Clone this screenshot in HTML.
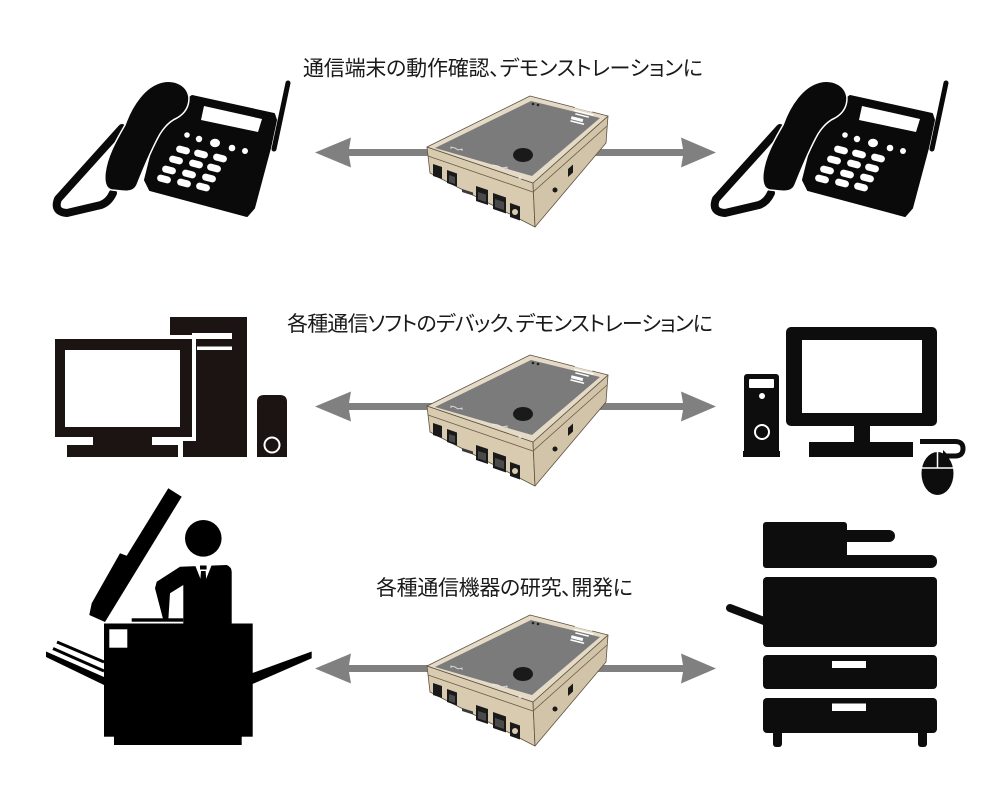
<!DOCTYPE html>
<html><head><meta charset="utf-8"><style>
html,body{margin:0;padding:0;background:#fff;}
svg{display:block;}
.t{font-family:"Liberation Sans","Noto Sans CJK JP",sans-serif;font-size:21px;fill:#1a1a1a;font-feature-settings:"palt";}
</style></head><body>
<svg width="1000" height="800" viewBox="0 0 1000 800" xmlns="http://www.w3.org/2000/svg">
<rect width="1000" height="800" fill="#fff"/>
<defs>
<g id="dev">
  <!-- side faces -->
  <polygon points="427,147 533,183 535,227 430,173" fill="#d8cbb0" stroke="#5e5242" stroke-width="0.8" stroke-linejoin="round"/>
  <polygon points="533,183 608,116 606,143 535,227" fill="#d2c4a8" stroke="#5e5242" stroke-width="0.8" stroke-linejoin="round"/>
  <polyline points="428,156 533,192 607,126" fill="none" stroke="#6b5d4a" stroke-width="0.8"/>
  <!-- top rim -->
  <polygon points="427,147 530,96 608,116 533,183" fill="#e4dac6" stroke="#5e5242" stroke-width="0.8" stroke-linejoin="round"/>
  <!-- top gray -->
  <polygon points="435,148 531,101 600,118 532,176" fill="#7b7b7b" stroke-linejoin="round"/>
  <!-- button -->
  <ellipse cx="523" cy="155" rx="10" ry="7" fill="#1a1a1a"/>
  <!-- leds -->
  <circle cx="533" cy="104" r="1.3" fill="#222"/>
  <circle cx="538" cy="105" r="1.3" fill="#222"/>
  <!-- logo marks -->
  <g fill="#fff" transform="rotate(14 583 116)">
    <rect x="573" y="106" width="18" height="4"/>
    <rect x="573" y="112" width="20" height="1.5"/>
    <rect x="575" y="115" width="14" height="1.5"/>
    <rect x="572" y="119" width="12" height="3"/>
    <rect x="572" y="123" width="14" height="1.5"/>
  </g>
  <g fill="none" stroke="#eee" stroke-width="0.8">
    <polyline points="451,149 451,147 455,148 458,150 462,149 462,151"/>
    <polyline points="493,167 493,165 498,166 502,168 507,167 507,169"/>
    <circle cx="520" cy="178" r="1"/>
  </g>
  <!-- ports front-left face -->
  <polygon points="433,164 442,167 442,179 433,176" fill="#1a1a1a"/>
  <polygon points="447,170 457,173.5 457,186.5 447,183" fill="#1a1a1a"/>
  <polygon points="449,175 455,177 455,184 449,182" fill="#4a4a4a"/>
  <polygon points="462,189 473,192.5 473,195.5 462,192" fill="#3a3a3a"/>
  <polygon points="476,186 488,190 488,205 476,201" fill="#1a1a1a"/>
  <polygon points="478,192 486,194.5 486,202 478,199.5" fill="#4a4a4a"/>
  <polygon points="493,193 506,197.5 506,213.5 493,209" fill="#1a1a1a"/>
  <polygon points="495,199 504,202 504,210 495,207" fill="#4a4a4a"/>
  <polygon points="510,203 520,206.5 520,220.5 510,217" fill="#1a1a1a"/>
  <circle cx="515" cy="212" r="3" fill="#d8cbb0"/>
  <!-- right face ports -->
  <polygon points="568,169 573,164.5 573,172.5 568,177" fill="#1a1a1a"/>
  <circle cx="555" cy="190" r="2.5" fill="#1a1a1a"/>
</g>
<g id="phone">
  <polygon points="192,96 274,114 276,120 270,148 254,208 247,216 150,190 145,180 160,120" fill="#0a0a0a" stroke="#0a0a0a" stroke-width="2" stroke-linejoin="round"/>
  <line x1="288" y1="83" x2="274" y2="149" stroke="#0a0a0a" stroke-width="5" stroke-linecap="round"/>
  <polygon points="204,106 262,119 258,132 201,120" fill="#fff"/>
  <g fill="#fff">
    <circle cx="187" cy="135" r="2.8"/>
    <circle cx="199" cy="139" r="3.2"/>
    <ellipse cx="215" cy="143" rx="5" ry="4.2"/>
    <circle cx="232" cy="148" r="3.3"/>
    <circle cx="245" cy="151" r="3"/>
    <g transform="rotate(14 183 150)"><rect x="176" y="146.5" width="14" height="7" rx="3.5"/></g>
    <g transform="rotate(14 201 154)"><rect x="194" y="150.5" width="14" height="7" rx="3.5"/></g>
    <g transform="rotate(14 220 158)"><rect x="213" y="154.5" width="14" height="7" rx="3.5"/></g>
    <g transform="rotate(14 176 160)"><rect x="169" y="156.5" width="14" height="7" rx="3.5"/></g>
    <g transform="rotate(14 196 164)"><rect x="189" y="160.5" width="14" height="7" rx="3.5"/></g>
    <g transform="rotate(14 214 168)"><rect x="207" y="164.5" width="14" height="7" rx="3.5"/></g>
    <g transform="rotate(14 169 170)"><rect x="162" y="166.5" width="14" height="7" rx="3.5"/></g>
    <g transform="rotate(14 189 174)"><rect x="182" y="170.5" width="14" height="7" rx="3.5"/></g>
    <g transform="rotate(14 209 178)"><rect x="202" y="174.5" width="14" height="7" rx="3.5"/></g>
    <g transform="rotate(14 164 179)"><rect x="157" y="175.5" width="14" height="7" rx="3.5"/></g>
    <g transform="rotate(14 184 183)"><rect x="177" y="179.5" width="14" height="7" rx="3.5"/></g>
    <g transform="rotate(14 203 187)"><rect x="196" y="183.5" width="14" height="7" rx="3.5"/></g>
  </g>
  <path d="M122,128 L58,199 Q53,212 67,213 L101,205 Q109,202 113,193" fill="none" stroke="#0a0a0a" stroke-width="8" stroke-linecap="round" stroke-linejoin="round"/>
  <path d="M125,125 C132,105 145,86 162,82 C176,79 188,86 189,98 C189,108 184,114 177,118 C170,121 165,126 160,134 C152,148 145,165 137,185 C135,190 130,192 122,191 L112,190 C106,189 104,183 105,173 C107,157 115,142 125,125 Z" fill="#0a0a0a" stroke="#fff" stroke-width="1.5"/>
</g>
</defs>

<!-- Texts -->
<text class="t" x="303" y="75.5" textLength="400" lengthAdjust="spacing">通信端末の動作確認、デモンストレーションに</text>
<text class="t" x="287" y="331" textLength="426" lengthAdjust="spacing">各種通信ソフトのデバック、デモンストレーションに</text>
<text class="t" x="376" y="595" textLength="257" lengthAdjust="spacing">各種通信機器の研究、開発に</text>

<!-- Arrows -->
<g fill="#808080">
  <g id="arr">
    <polygon points="315,152.5 351,137.5 349,149 450,149 450,156 349,156 351,167.5"/>
    <polygon points="590,149 683,149 681,137.5 716,152.5 681,167.5 683,156 590,156"/>
  </g>
  <use href="#arr" transform="translate(0,254)"/>
  <use href="#arr" transform="translate(0,516)"/>
</g>

<!-- Devices -->
<use href="#dev"/>
<use href="#dev" transform="translate(0,259)"/>
<use href="#dev" transform="translate(0,519)"/>

<!-- Phones -->
<use href="#phone"/>
<use href="#phone" transform="translate(658,0)"/>

<!-- Left computer -->
<g>
  <rect x="170" y="317" width="77" height="140" fill="#1c1412"/>
  <rect x="192" y="333" width="40" height="6" fill="#fff"/>
  <rect x="197" y="346.5" width="35" height="3.5" fill="#fff"/>
  <rect x="51" y="335" width="145" height="106" fill="#fff"/>
  <rect x="62" y="441" width="121" height="16" fill="#fff"/>
  <rect x="55" y="339" width="137" height="98" fill="#1c1412"/>
  <rect x="65" y="350" width="115" height="77" fill="#fff"/>
  <rect x="93" y="436" width="59" height="10" fill="#1c1412"/>
  <rect x="67" y="445" width="111" height="12" fill="#1c1412"/>
  <path d="M257,457 L257,402 Q257,395 264,395 L280,395 Q287,395 287,402 L287,457 Z" fill="#1c1412"/>
  <circle cx="272" cy="445" r="7.5" fill="none" stroke="#fff" stroke-width="2"/>
</g>

<!-- Right computer -->
<g fill="#0d0d0d">
  <rect x="786" y="327" width="151" height="99" rx="5"/>
  <rect x="802" y="340" width="120" height="73" fill="#fff"/>
  <rect x="854" y="425" width="16" height="18"/>
  <rect x="809" y="442" width="104" height="15"/>
  <rect x="744" y="374" width="35" height="80" rx="3"/>
  <rect x="743" y="451" width="37" height="6"/>
  <rect x="749" y="379" width="25" height="9" rx="1" fill="#fff"/>
  <circle cx="762" cy="396" r="3" fill="#fff"/>
  <circle cx="762" cy="432" r="7" fill="none" stroke="#fff" stroke-width="2"/>
  <ellipse cx="937.5" cy="473.5" rx="16" ry="21.5"/>
  <line x1="937.5" y1="452" x2="937.5" y2="468" stroke="#fff" stroke-width="1.5"/>
  <line x1="922" y1="468" x2="953" y2="468" stroke="#fff" stroke-width="1.5"/>
  <path d="M920,441.5 L955,441.5 Q963,441.5 963,448.5 Q963,456 955,456 L946,456" fill="none" stroke="#0d0d0d" stroke-width="5"/>
  <polygon points="943,450 949,456 943,462" fill="#0d0d0d"/>
</g>

<!-- Copier with person (left) -->
<g fill="#000">
  <polygon points="168.3,488.3 181.7,496.7 105,622 89.3,615 91.7,603.3 120,553.3 126.7,555.7"/>
  <circle cx="203.3" cy="538.3" r="18.3"/>
  <path d="M180,566.7 L226.7,565 Q231.7,567 231.7,572 L231.7,624 L183.3,624 L183.3,585 L170,593.3 L168.3,620 L163.3,620 L155,588.3 L156.7,581.7 Z"/>
  <polygon points="195,565 211.7,565 203.3,586" fill="#fff"/>
  <rect x="200" y="565.5" width="6.6" height="4"/>
  <polygon points="201,571 205.6,571 206.5,583 203.3,587 200.1,583"/>
  <rect x="131.7" y="618.3" width="51.6" height="3.4"/>
  <rect x="104" y="623.5" width="148.7" height="113.2"/>
  <rect x="114" y="736" width="127.7" height="9"/>
  <rect x="109.3" y="629.3" width="18" height="18.4" fill="#fff"/>
  <line x1="57" y1="642" x2="104" y2="662" stroke="#000" stroke-width="3"/>
  <line x1="53" y1="648.5" x2="104" y2="671" stroke="#000" stroke-width="3"/>
  <polygon points="46,651.5 104,677 104,685 46,657"/>
  <polygon points="252.5,673 311.7,651.5 311.7,658.3 252.5,684"/>
</g>

<!-- Printer (right) -->
<g fill="#0d0d0d">
  <rect x="763" y="522" width="84" height="46" rx="3"/>
  <rect x="838" y="530" width="57" height="12" rx="6"/>
  <rect x="838" y="555" width="99" height="13" rx="6"/>
  <rect x="763" y="577" width="174" height="70" rx="4"/>
  <line x1="730" y1="608" x2="764" y2="621" stroke="#0d0d0d" stroke-width="8" stroke-linecap="round"/>
  <rect x="763" y="655" width="174" height="34" rx="4"/>
  <rect x="832" y="661" width="34" height="7" fill="#fff"/>
  <rect x="763" y="698" width="174" height="35" rx="4"/>
  <rect x="832" y="703.5" width="34" height="7.5" fill="#fff"/>
  <rect x="773" y="728" width="9" height="19" rx="3"/>
  <rect x="918" y="728" width="9" height="19" rx="3"/>
</g>
</svg>
</body></html>
